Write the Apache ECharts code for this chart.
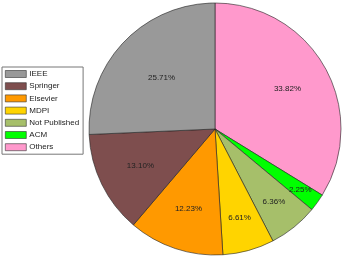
<!DOCTYPE html>
<html><head><meta charset="utf-8">
<script src="https://cdn.jsdelivr.net/npm/echarts@6/dist/echarts.min.js"></script>
<style>html,body{margin:0;padding:0;background:#fff}#c{width:346px;height:261px}</style>
</head><body><div id="c"></div>
<script>
const categories = ['Others','ACM','Not Published','MDPI','Elsevier','Springer','IEEE'];
const values = [33.82, 2.25, 6.36, 6.61, 12.23, 13.10, 25.71];
const legendOrder = ['IEEE','Springer','Elsevier','MDPI','Not Published','ACM','Others'];
const colors = ['#ff99cc','#00ff00','#a6bf6a','#ffd400','#ff9900','#7e4e4e','#999999'];
// label distance from centre (style only)
const labelDist = [80, 102, 91, 89, 81, 80, 71];

const data = categories.map((n,i)=>({name:n, value:values[i], itemStyle:{color:colors[i]}}));
const series = [
  {type:'pie', center:[215,129], radius:[0,126], startAngle:90, clockwise:true,
   data:data, label:{show:false}, labelLine:{show:false},
   itemStyle:{borderColor:'#222', borderWidth:0.6}, silent:true}
];
labelDist.forEach((d,k)=>{
  series.push({type:'pie', center:[215,129], radius:[d-30,d+30], startAngle:90, clockwise:true,
    silent:true, legendHoverLink:false,
    data:categories.map((n,i)=>({name:n, value:values[i], label:{show:i===k}})),
    itemStyle:{color:'rgba(0,0,0,0)', borderWidth:0},
    label:{position:'inside', formatter:p=>p.value.toFixed(2)+'%',
      fontFamily:'Liberation Sans', fontSize:8, color:'#222'},
    labelLine:{show:false}});
});
const chart = echarts.init(document.getElementById('c'));
chart.setOption({
  animation:false,
  legend:{
    data: legendOrder, orient:'vertical', left:2, top:67, icon:'rect',
    itemWidth:21, itemHeight:7, itemGap:4.2, padding:[3,4,3,3],
    borderColor:'#777', borderWidth:1, backgroundColor:'#fff',
    textStyle:{fontFamily:'Liberation Sans', fontSize:8, color:'#222', padding:[0,0,0,-2]},
    itemStyle:{borderColor:'#333', borderWidth:0.6},
    selectedMode:false
  },
  series:series
});
</script></body></html>
